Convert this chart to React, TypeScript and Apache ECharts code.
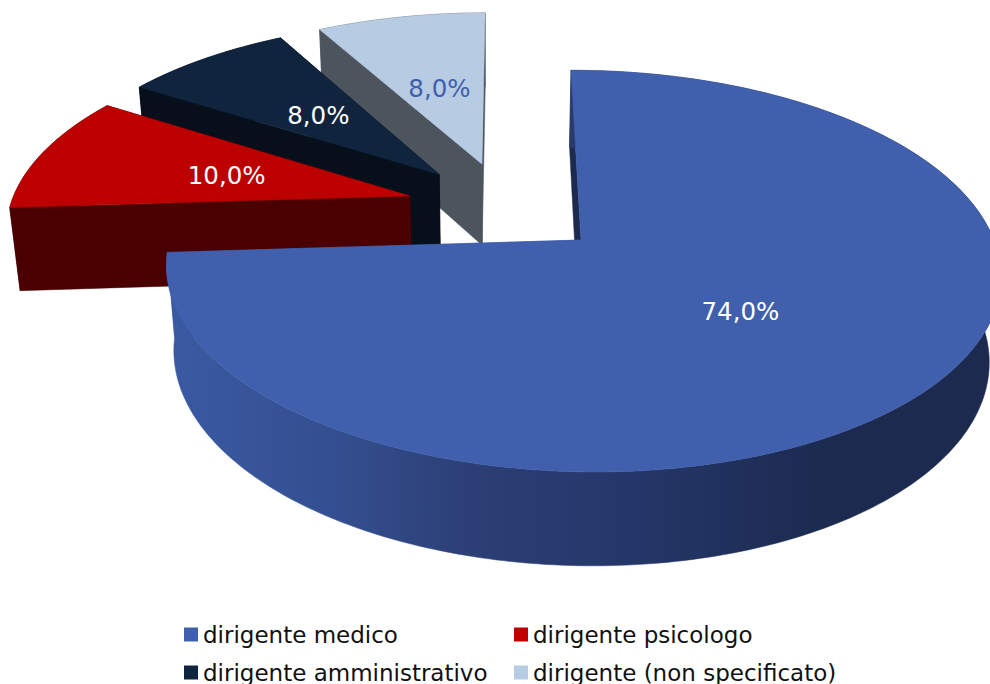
import React, { useEffect, useRef } from "react";
import * as echarts from "echarts";

const categories = ["dirigente medico", "dirigente psicologo", "dirigente amministrativo", "dirigente (non specificato)"];
const values = [74, 10, 8, 8];
const labels = ["74,0%", "10,0%", "8,0%", "8,0%"];
const topColors = ["#4060AD", "#BC0000", "#10243E", "#B7CBE3"];
const wallColors = ["#1B2A4E", "#4A0000", "#070F1A", "#4C555E"];
const labelColors = ["#FFFFFF", "#FFFFFF", "#FFFFFF", "#4060AD"];
const swatchColors = ["#4060AD", "#C00000", "#10243E", "#B7CBE3"];

const EXPLODE = 0.25;
const total = values.reduce((a, b) => a + b, 0);
const starts: number[] = [];
values.reduce((acc, v, i) => { starts[i] = acc; return acc + v; }, 0);
const toAngle = (v: number) => (v / total) * Math.PI * 2;
const dir = (t: number) => [Math.sin(t), -Math.cos(t)];
const offset = (i: number) => {
  const d = dir(toAngle(starts[i] + values[i] / 2));
  const d0 = dir(toAngle(starts[0] + values[0] / 2));
  return [EXPLODE * (d[0] - d0[0]), EXPLODE * (d[1] - d0[1])];
};

// Perspective view of the pie plane
const view = { ax: 581, ay: 240, A: 412, B: 196, C: 11.5, D: 86.7, E: -2, k: 0.155, l: 0.002, m: 0.0227 };
const project = (u: number, v: number, z: number) => {
  const w = 1 - view.k * v - view.l * u + view.m * z;
  return [view.ax + (view.A * u + view.C * v + view.E * z) / w, view.ay + (view.B * v + view.D * z) / w];
};

const sliceItem = (i: number) => (_params: any, api: any) => {
  const a0 = toAngle(starts[i]);
  const a1 = a0 + toAngle(api.value(0));
  const [ou, ov] = offset(i);
  const steps = Math.max(8, Math.ceil((a1 - a0) / (Math.PI / 180)));
  const rim = (z: number) => {
    const pts: number[][] = [];
    for (let s = 0; s <= steps; s++) {
      const d = dir(a0 + ((a1 - a0) * s) / steps);
      pts.push(project(ou + d[0], ov + d[1], z));
    }
    return pts;
  };
  const top = rim(0);
  const bot = rim(1);
  const apexTop = project(ou, ov, 0);
  const apexBot = project(ou, ov, 1);
  const wallFill: any = i === 0
    ? new echarts.graphic.LinearGradient(0, 0, 1, 0, [
        { offset: 0, color: "#3B5AA3" },
        { offset: 0.2, color: "#344F90" },
        { offset: 0.36, color: "#2C3F76" },
        { offset: 0.55, color: "#25376A" },
        { offset: 0.8, color: "#1B2A4E" },
        { offset: 1, color: "#1B2A4E" },
      ])
    : wallColors[i];
  const poly = (points: number[][], fill: any) => ({
    type: "polygon",
    shape: { points },
    style: { fill, stroke: fill, lineWidth: 0.5 },
  });
  const mid = dir((a0 + a1) / 2);
  const lp = project(ou + 0.49 * mid[0], ov + 0.49 * mid[1], 0);
  return {
    type: "group",
    children: [
      poly([apexTop, top[0], bot[0], apexBot], i === 0 ? "#1B2A4E" : wallColors[i]),
      poly([apexTop, top[steps], bot[steps], apexBot], i === 0 ? "#3B5AA3" : wallColors[i]),
      poly([...top, ...bot.slice().reverse()], wallFill),
      poly([apexTop, ...top], topColors[i]),
      {
        type: "text",
        style: {
          text: labels[i],
          x: lp[0],
          y: lp[1] + (i === 0 ? 2.5 : 1),
          fill: labelColors[i],
          font: "24.5px 'DejaVu Sans'",
          align: "center",
          verticalAlign: "middle",
        },
      },
    ],
  };
};

const drawOrder = [3, 2, 1, 0];

export default function App() {
  const ref = useRef<HTMLDivElement>(null);
  useEffect(() => {
    const chart = echarts.init(ref.current!, undefined, { renderer: "svg" });
    const legendBase = {
      orient: "vertical" as const,
      top: 623,
      itemWidth: 14,
      itemHeight: 14,
      itemGap: 15,
      selectedMode: false,
      padding: 0,
      icon: "rect",
      textStyle: { fontFamily: "'DejaVu Sans'", fontSize: 23, color: "#111111", padding: [0, 0, 0, 0] },
    };
    chart.setOption({
      animation: false,
      backgroundColor: "#FFFFFF",
      legend: [
        { ...legendBase, left: 184, data: [categories[0], categories[2]] },
        { ...legendBase, left: 514, data: [categories[1], categories[3]] },
      ],
      series: drawOrder.map((i) => ({
        type: "custom",
        name: categories[i],
        coordinateSystem: "none",
        silent: true,
        itemStyle: { color: swatchColors[i] },
        data: [[values[i]]],
        renderItem: sliceItem(i),
      })),
    });
    return () => chart.dispose();
  }, []);
  return <div ref={ref} style={{ position: "absolute", left: 0, top: 0, width: 990, height: 684 }} />;
}
